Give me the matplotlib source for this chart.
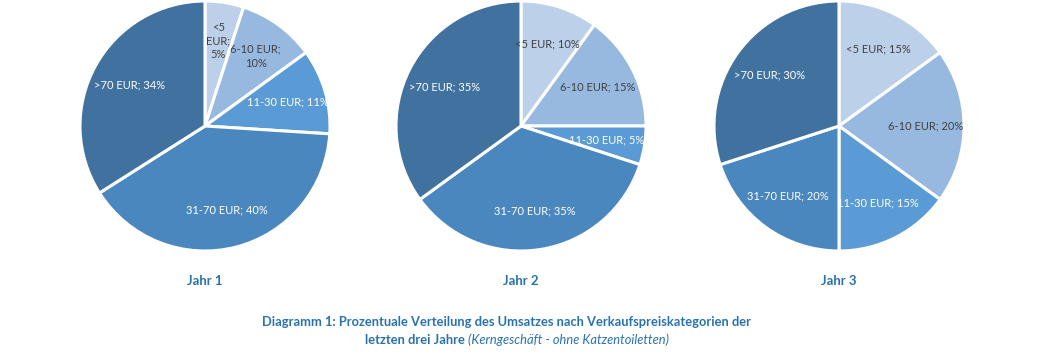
import textwrap
import matplotlib
matplotlib.use("Agg")
import matplotlib.pyplot as plt
import numpy as np

plt.rcParams['font.family'] = ['Lato', 'DejaVu Sans']

kategorien = ["<5 EUR", "6-10 EUR", "11-30 EUR", "31-70 EUR", ">70 EUR"]
jahre = ["Jahr 1", "Jahr 2", "Jahr 3"]
anteile = [
    [5, 10, 11, 40, 34],
    [10, 15, 5, 35, 35],
    [15, 20, 15, 20, 30],
]
# Excel wraps a few labels in narrow slices (year index, slice index) -> wrap width
umbruch = {(0, 0): 4, (0, 1): 10}

farben = ["#bdd0ea", "#97b9e0", "#5b9bd5", "#4a87bf", "#41729f"]
textfarben = ["#404040", "#404040", "white", "white", "white"]
blau = "#2a72ad"

W, H = 1040, 357
fig = plt.figure(figsize=(W / 100, H / 100), dpi=100)

zentren_x = [205, 521, 839]
zentrum_y = 126
radius = 125

for i, (jahr, werte) in enumerate(zip(jahre, anteile)):
    cx = zentren_x[i]
    ax = fig.add_axes([(cx - radius) / W, (H - zentrum_y - radius) / H,
                       2 * radius / W, 2 * radius / H])
    wedges, _ = ax.pie(werte, colors=farben, startangle=90, counterclock=False,
                       radius=1, wedgeprops=dict(edgecolor="white", linewidth=2.2))
    for j, w in enumerate(wedges):
        mitte = np.deg2rad((w.theta1 + w.theta2) / 2)
        label = f"{kategorien[j]}; {werte[j]}%"
        if (i, j) in umbruch:
            label = textwrap.fill(label, umbruch[(i, j)])
        r = 0.69
        ax.text(r * np.cos(mitte), r * np.sin(mitte), label, ha="center", va="center",
                fontsize=8, color=textfarben[j], linespacing=1.3)
    ax.set_xlim(-1, 1)
    ax.set_ylim(-1, 1)
    ax.set_aspect("equal")
    ax.axis("off")
    fig.text(cx / W, 1 - 281 / H, jahr, ha="center", va="center",
             fontsize=9.5, fontweight="bold", color=blau)

fig.text(506 / W, 1 - 322 / H,
         "Diagramm 1: Prozentuale Verteilung des Umsatzes nach Verkaufspreiskategorien der",
         ha="center", va="center", fontsize=9.3, fontweight="bold", color=blau)

t1 = fig.text(0, 1 - 340 / H, "letzten drei Jahre ", ha="left", va="center",
              fontsize=9.3, fontweight="bold", color=blau)
t2 = fig.text(0, 1 - 340 / H, "(Kerngeschäft - ohne Katzentoiletten)", ha="left", va="center",
              fontsize=9.3, fontstyle="italic", color=blau)
renderer = fig.canvas.get_renderer()
b1 = t1.get_window_extent(renderer)
b2 = t2.get_window_extent(renderer)
start = 517 - (b1.width + b2.width) / 2
t1.set_x(start / W)
t2.set_x((start + b1.width) / W)

fig.savefig("out.png", dpi=100)
